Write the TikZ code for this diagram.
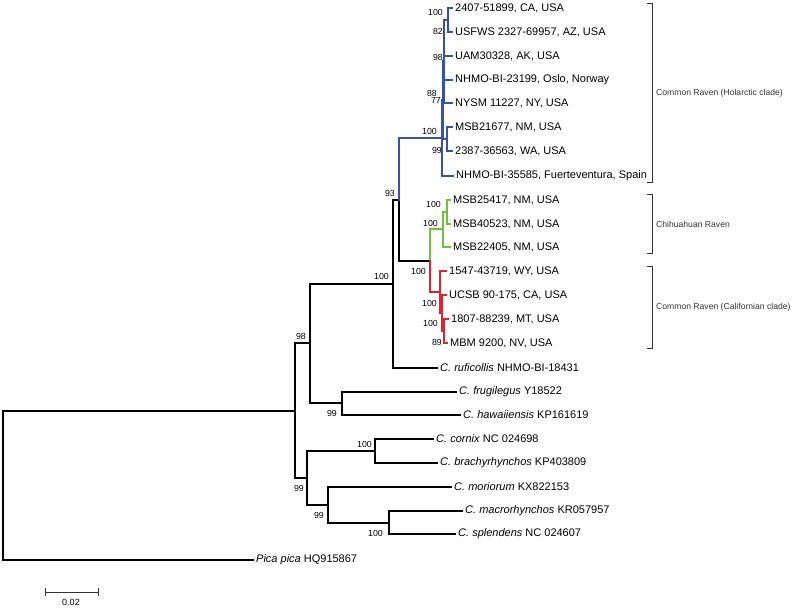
\documentclass[tikz,border=0pt]{standalone}
\usepackage{fontspec}
\setmainfont{Liberation Sans}
\newfontfamily\bracketfont{Liberation Sans}
\definecolor{cblue}{RGB}{55,80,170}
\definecolor{cgreen}{RGB}{115,190,60}
\definecolor{cred}{RGB}{225,35,45}
\definecolor{cgray}{RGB}{50,50,50}
\begin{document}
\begin{tikzpicture}[x=1pt,y=-1pt,
  br/.style={line width=1.5pt,line cap=rect},
  leaf/.style={anchor=west,inner sep=0pt,font=\fontsize{11}{12}\selectfont,xshift=3pt},
  bs/.style={anchor=east,inner sep=0pt,font=\fontsize{8.8}{9}\selectfont},
  clab/.style={anchor=west,inner sep=0pt,font=\bracketfont\fontsize{8.6}{9}\selectfont,text=cgray},
  brk/.style={line width=0.8pt,cgray}]
\useasboundingbox (0,0) rectangle (800,608);
% internal nodes
\coordinate (root) at (3,486);
\coordinate (ncrow) at (295,411);
\coordinate (n98b) at (310,343);
\coordinate (n100a) at (393,284);
\coordinate (n93) at (399,200);
\coordinate (nfh) at (342,403);
\coordinate (n99) at (307,478);
\coordinate (ncb) at (375,451);
\coordinate (n99b) at (328,505);
\coordinate (nms) at (389,523);
\coordinate (b1) at (442,138);
\coordinate (b2) at (443,100);
\coordinate (b3) at (444,61);
\coordinate (btop) at (448,20);
\coordinate (bmsb) at (447,139);
\coordinate (g0) at (430,261);
\coordinate (g1) at (443,229);
\coordinate (g2) at (447,212);
\coordinate (r1) at (440,292);
\coordinate (r2) at (442,313);
\coordinate (r3) at (444,331);
% leaf tips
\coordinate (t1) at (452,8);
\coordinate (t2) at (452,32);
\coordinate (t3) at (452,56);
\coordinate (t4) at (452,80);
\coordinate (t5) at (452,103);
\coordinate (t6) at (452,127);
\coordinate (t7) at (452,151);
\coordinate (t8) at (453,176);
\coordinate (t9) at (450,200);
\coordinate (t10) at (450,224);
\coordinate (t11) at (450,247);
\coordinate (t12) at (446,271);
\coordinate (t13) at (446,295);
\coordinate (t14) at (448,319);
\coordinate (t15) at (447,343);
\coordinate (t16) at (437,368);
\coordinate (t17) at (456,392);
\coordinate (t18) at (460,415);
\coordinate (t19) at (433,439);
\coordinate (t20) at (437,463);
\coordinate (t21) at (451,487);
\coordinate (t22) at (462,511);
\coordinate (t23) at (455,534);
\coordinate (t24) at (253,560);
% leaf labels
\node[leaf] (l1) at (t1) {2407-51899, CA, USA};
\node[leaf] (l2) at (t2) {USFWS 2327-69957, AZ, USA};
\node[leaf] (l3) at (t3) {UAM30328, AK, USA};
\node[leaf] (l4) at (t4) {NHMO-BI-23199, Oslo, Norway};
\node[leaf] (l5) at (t5) {NYSM 11227, NY, USA};
\node[leaf] (l6) at (t6) {MSB21677, NM, USA};
\node[leaf] (l7) at (t7) {2387-36563, WA, USA};
\node[leaf] (l8) at (t8) {NHMO-BI-35585, Fuerteventura, Spain};
\node[leaf] (l9) at (t9) {MSB25417, NM, USA};
\node[leaf] (l10) at (t10) {MSB40523, NM, USA};
\node[leaf] (l11) at (t11) {MSB22405, NM, USA};
\node[leaf] (l12) at (t12) {1547-43719, WY, USA};
\node[leaf] (l13) at (t13) {UCSB 90-175, CA, USA};
\node[leaf] (l14) at (t14) {1807-88239, MT, USA};
\node[leaf] (l15) at (t15) {MBM 9200, NV, USA};
\node[leaf] (l16) at (t16) {\textit{C. ruficollis} NHMO-BI-18431};
\node[leaf] (l17) at (t17) {\textit{C. frugilegus} Y18522};
\node[leaf] (l18) at (t18) {\textit{C. hawaiiensis} KP161619};
\node[leaf] (l19) at (t19) {\textit{C. cornix} NC 024698};
\node[leaf] (l20) at (t20) {\textit{C. brachyrhynchos} KP403809};
\node[leaf] (l21) at (t21) {\textit{C. moriorum} KX822153};
\node[leaf] (l22) at (t22) {\textit{C. macrorhynchos} KR057957};
\node[leaf] (l23) at (t23) {\textit{C. splendens} NC 024607};
\node[leaf] (l24) at (t24) {\textit{Pica pica} HQ915867};
% black branches
\draw[br] (root) |- (ncrow);
\draw[br] (root) |- (t24);
\draw[br] (ncrow) |- (n98b);
\draw[br] (ncrow) |- (n99);
\draw[br] (n98b) |- (n100a);
\draw[br] (n98b) |- (nfh);
\draw[br] (nfh) |- (t17);
\draw[br] (nfh) |- (t18);
\draw[br] (n100a) |- (n93);
\draw[br] (n100a) |- (t16);
\draw[br] (n93) |- (g0);
\draw[br] (n99) |- (ncb);
\draw[br] (n99) |- (n99b);
\draw[br] (ncb) |- (t19);
\draw[br] (ncb) |- (t20);
\draw[br] (n99b) |- (t21);
\draw[br] (n99b) |- (nms);
\draw[br] (nms) |- (t22);
\draw[br] (nms) |- (t23);
% blue clade
\begin{scope}[cblue]
\draw[br] (n93) |- (b1);
\draw[br] (b1) |- (b2);
\draw[br] (b1) |- (t8);
\draw[br] (b2) |- (b3);
\draw[br] (b2) |- (bmsb);
\draw[br] (b3) |- (btop);
\draw[br] (b3) |- (t3);
\draw[br] (b3) |- (t4);
\draw[br] (b3) |- (t5);
\draw[br] (btop) |- (t1);
\draw[br] (btop) |- (t2);
\draw[br] (bmsb) |- (t6);
\draw[br] (bmsb) |- (t7);
\end{scope}
% green clade
\begin{scope}[cgreen]
\draw[br] (g0) |- (g1);
\draw[br] (g1) |- (g2);
\draw[br] (g1) |- (t11);
\draw[br] (g2) |- (t9);
\draw[br] (g2) |- (t10);
\end{scope}
% red clade
\begin{scope}[cred]
\draw[br] (g0) |- (r1);
\draw[br] (r1) |- (t12);
\draw[br] (r1) |- (r2);
\draw[br] (r2) |- (t13);
\draw[br] (r2) |- (r3);
\draw[br] (r3) |- (t14);
\draw[br] (r3) |- (t15);
\end{scope}
% bootstrap values
\node[bs] (s1) at (443,12) {100};
\node[bs] (s2) at (443,31) {82};
\node[bs] (s3) at (443,57) {98};
\node[bs] (s4) at (437,93) {88};
\node[bs] (s5) at (441,100) {77};
\node[bs] (s6) at (437,131) {100};
\node[bs] (s7) at (442,150) {99};
\node[bs] (s8) at (395,193) {93};
\node[bs] (s9) at (441,204) {100};
\node[bs] (s10) at (438,223) {100};
\node[bs] (s11) at (426,271) {100};
\node[bs] (s12) at (389,276) {100};
\node[bs] (s13) at (437,303) {100};
\node[bs] (s14) at (438,323) {100};
\node[bs] (s15) at (442,342) {89};
\node[bs] (s16) at (306,336) {98};
\node[bs] (s17) at (337,413) {99};
\node[bs] (s18) at (372,444) {100};
\node[bs] (s19) at (304,488) {99};
\node[bs] (s20) at (324,515) {99};
\node[bs] (s21) at (383,533) {100};
% clade brackets
\coordinate (k1a) at (647,3);
\coordinate (k1b) at (647,182);
\coordinate (k2a) at (647,194);
\coordinate (k2b) at (647,253);
\coordinate (k3a) at (647,266);
\coordinate (k3b) at (647,348);
\draw[brk] (k1a) -- ++(5,0) |- (k1b);
\draw[brk] (k2a) -- ++(5,0) |- (k2b);
\draw[brk] (k3a) -- ++(5,0) |- (k3b);
\node[clab] (c1) at (656,93) {Common Raven (Holarctic clade)};
\node[clab] (c2) at (656,224) {Chihuahuan Raven};
\node[clab] (c3) at (656,307) {Common Raven (Californian clade)};
% scale bar
\coordinate (sa) at (45,592);
\coordinate (sb) at (98,592);
\draw[line width=1pt,cgray] (sa) -- (sb);
\draw[line width=1pt,cgray] ([yshift=-4pt]sa) -- ([yshift=4pt]sa);
\draw[line width=1pt,cgray] ([yshift=-4pt]sb) -- ([yshift=4pt]sb);
\node[inner sep=0pt,font=\fontsize{9}{10}\selectfont] (sl) at (71,602) {0.02};
\end{tikzpicture}
\end{document}
